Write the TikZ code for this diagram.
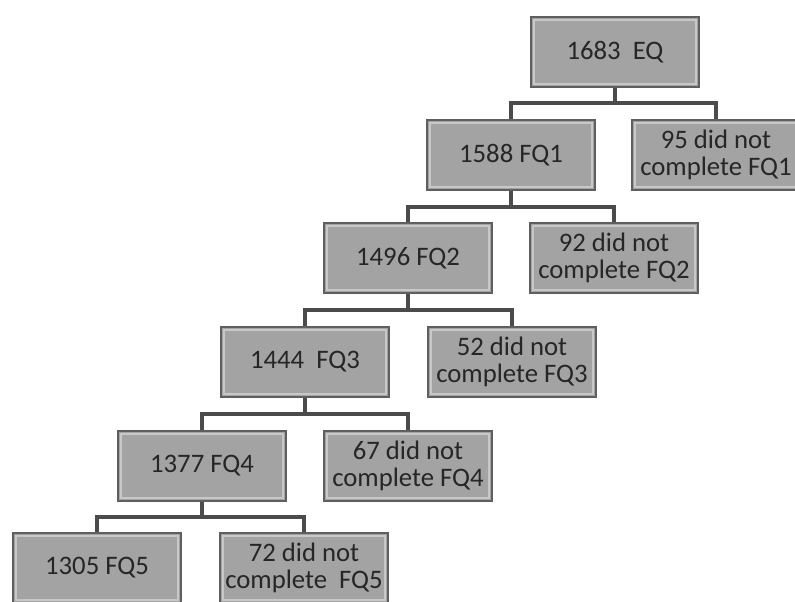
\documentclass[tikz,border=0pt]{standalone}
\usepackage{fontspec}
\setmainfont{Carlito}
\usetikzlibrary{calc}

\definecolor{boxgray}{RGB}{163,163,163}
\definecolor{boxedge}{RGB}{95,95,95}
\definecolor{linkgray}{RGB}{75,75,75}

\tikzset{
  box/.style={draw=boxedge, line width=0.8pt, fill=boxgray, text=black!85,
    minimum width=4.2cm, minimum height=1.75cm, inner sep=0pt, align=center,
    font=\fontsize{19}{19}\selectfont,
    path picture={\draw[boxgray!60!white, line width=1.5pt]
      ([shift={(2pt,-2pt)}]path picture bounding box.north west) rectangle
      ([shift={(-2pt,2pt)}]path picture bounding box.south east);}},
  link/.style={draw=linkgray, line width=2.2pt}
}

\begin{document}
\begin{tikzpicture}[x=0.025cm, y=-0.025cm]
  \useasboundingbox (0,0) rectangle (795,602);
  \node[box] (eq) at (615,52) {1683\ \ EQ};
  \node[box] (fq1) at (511,155) {1588 FQ1};
  \node[box] (nc1) at (716,155) {95 did not\\complete FQ1};
  \node[box] (fq2) at (408,258) {1496 FQ2};
  \node[box] (nc2) at (614,258) {92 did not\\complete FQ2};
  \node[box] (fq3) at (305,362) {1444\ \ FQ3};
  \node[box] (nc3) at (512,362) {52 did not\\complete FQ3};
  \node[box] (fq4) at (202,466) {1377 FQ4};
  \node[box] (nc4) at (408,466) {67 did not\\complete FQ4};
  \node[box] (fq5) at (97,568) {1305 FQ5};
  \node[box] (nc5) at (304,568) {72 did not\\complete\ \ FQ5};
  % junctions below each parent
  \coordinate (j0) at (615,103);
  \coordinate (j1) at (511,207);
  \coordinate (j2) at (408,310);
  \coordinate (j3) at (305,414);
  \coordinate (j4) at (202,517);
  \draw[link] (eq) -- (j0);
  \draw[link] (fq1.north) |- (j0) -| (nc1.north);
  \draw[link] (fq1) -- (j1);
  \draw[link] (fq2.north) |- (j1) -| (nc2.north);
  \draw[link] (fq2) -- (j2);
  \draw[link] (fq3.north) |- (j2) -| (nc3.north);
  \draw[link] (fq3) -- (j3);
  \draw[link] (fq4.north) |- (j3) -| (nc4.north);
  \draw[link] (fq4) -- (j4);
  \draw[link] (fq5.north) |- (j4) -| (nc5.north);
\end{tikzpicture}
\end{document}
